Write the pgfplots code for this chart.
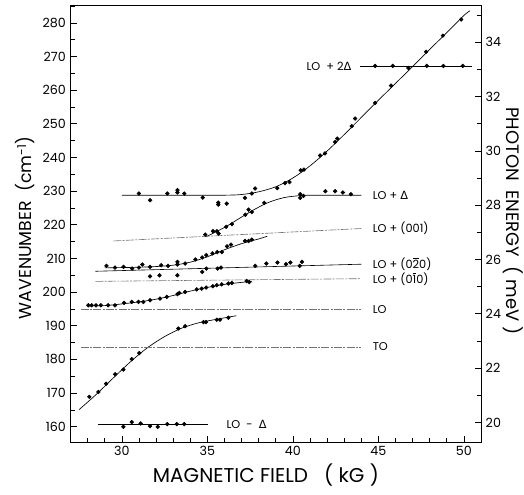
\documentclass[border=0pt]{standalone}
\usepackage{pgfplots}
\pgfplotsset{compat=1.18}
\usepackage{fontspec}
\setmainfont{Poppins}
\newfontfamily\dv{DejaVu Sans}
\newcommand{\D}{{\dv Δ}}

\pgfplotsset{
  pts/.style={only marks, mark=*, mark size=1.4pt, black},
  fit/.style={black, line width=0.5pt, smooth, no marks},
  faint/.style={black!55, line width=0.45pt, no marks, dash pattern=on 6pt off 1pt on 1.5pt off 1pt},
}

\begin{document}
\begin{tikzpicture}[font=\fontsize{8.5}{10}\selectfont]
\begin{axis}[
  scale only axis, width=307.9pt, height=327.75pt,
  xmin=27, xmax=51, ymin=155.5, ymax=285.3,
  xtick={30,35,...,50}, minor xtick={27,...,51},
  ytick={160,170,...,280}, minor ytick={160,165,...,285},
  xtick pos=bottom, ytick pos=left,
  tick align=inside, major tick length=4.5pt, minor tick length=3pt,
  tick style={black, line width=0.5pt},
  axis line style={line width=0.6pt},
  /pgf/number format/assume math mode=true,
  ticklabel style={font=\fontsize{9.5}{11}\selectfont},
  xlabel={MAGNETIC FIELD\ \ \ ( kG )},
  ylabel={WAVENUMBER\ \ (cm\textsuperscript{-1})},
  every axis x label/.style={at={(axis description cs:0.476,-0.075)}, anchor=center, font=\fontsize{15}{17}\selectfont},
  every axis y label/.style={at={(axis description cs:-0.11,0.49)}, anchor=center, rotate=90, font=\fontsize{13}{15}\selectfont},
  clip=false,
]
\coordinate (sw) at (rel axis cs:0,0);
\coordinate (ne) at (rel axis cs:1,1);

% fitted curves
\addplot[fit] coordinates {(30,228.8)(32,228.8)(34,228.8)(36,228.8)(37,229.0)(38,229.8)(39,231.3)(40,233.9)(41,237.5)(42,241.9)(43,246.8)(44,251.9)(45,257.0)(46,262.0)(47,267.0)(48,272.1)(49,277.1)(50,282.2)(50.36,283.6)};
\addplot[fit] coordinates {(34.9,216.4)(35.5,217.9)(36.2,219.8)(37,222.3)(37.8,224.7)(38.6,226.7)(39.5,228.1)(40.5,228.7)(41.5,228.8)(42.5,228.8)(44.0,228.8)};
\addplot[fit] coordinates {(29.0,207.2)(30,207.3)(31,207.4)(32,207.6)(33,208.0)(34,208.9)(35,210.5)(36,212.6)(37,214.4)(38,215.8)(38.5,216.6)};
\addplot[fit] coordinates {(28,195.9)(29,196.0)(30,196.5)(31,197.1)(32,197.9)(33,199.0)(34,200.3)(35,201.4)(36,202.3)(37,202.9)(37.6,203.2)};
\addplot[fit] coordinates {(27.5,165.1)(28.5,169.6)(29.5,174.5)(30.5,179.3)(31.5,183.5)(32.5,186.8)(33.5,189.3)(34.5,190.9)(35.5,191.9)(36.7,193.0)};

% level lines
\addplot[black, line width=0.45pt, no marks] coordinates {(43.93,267.2)(50.5,267.2)};
\addplot[black, line width=0.45pt, no marks] coordinates {(28.63,160.6)(35.06,160.6)};
\addplot[black, line width=0.45pt, no marks] coordinates {(28.45,206.2)(44.0,208.3)};
\addplot[faint] coordinates {(29.5,215.2)(44.0,218.9)};
\addplot[faint] coordinates {(28.45,203.2)(44.0,204.0)};
\addplot[faint] coordinates {(27.6,194.8)(44.0,194.8)};
\addplot[faint] coordinates {(27.6,183.7)(44.0,183.7)};

% measured points
\addplot[pts] table {
x y
31.0 229.3
31.65 227.3
32.66 229.3
33.25 230.3
33.25 229.6
33.65 229.3
34.73 228.1
35.64 226.6
35.64 226.0
36.13 226.3
37.2 228.0
37.6 229.3
37.79 230.8
39.09 230.9
39.54 232.4
39.8 232.7
40.46 236.2
40.65 236.4
41.59 240.6
41.88 241.2
42.47 244.6
42.6 245.6
43.44 249.3
43.64 251.55
44.81 256.2
45.74 261.35
46.75 266.6
47.79 271.4
48.77 276.2
49.84 281.0
};
\addplot[pts] table {
x y
34.88 217.1
35.33 218.1
35.56 218.1
35.66 217.4
36.1 219.4
36.44 220.2
37.22 223.0
37.41 224.5
37.6 223.8
38.33 226.5
40.43 229.1
40.43 228.0
40.62 228.6
41.9 230.0
42.47 230.0
42.92 229.6
43.39 229.1
};
\addplot[pts] table {
x y
44.81 267.2
45.84 267.2
47.83 267.2
48.8 267.2
49.93 267.2
};
\addplot[pts] table {
x y
29.1 207.8
29.6 207.3
30.1 207.5
30.6 207.0
31.0 207.3
31.2 208.2
31.65 207.5
32.3 208.0
32.7 207.8
33.25 209.0
33.25 208.2
33.7 208.5
34.3 209.7
34.7 210.3
34.94 211.0
35.3 211.5
35.58 211.9
35.85 211.9
36.15 213.6
36.38 214.1
37.2 215.2
37.41 215.2
37.6 215.6
};
\addplot[pts] table {
x y
31.65 204.7
32.2 205.0
33.25 205.0
34.7 206.0
34.94 207.0
35.6 207.0
35.8 207.3
37.8 207.8
38.45 208.5
39.1 208.8
39.6 208.3
39.85 208.8
40.4 207.8
40.53 209.0
};
\addplot[pts] table {
x y
28.04 196.1
28.24 196.1
28.49 196.1
28.77 196.1
29.2 196.1
29.6 196.1
30.13 196.8
30.58 197.1
30.97 197.1
31.26 197.1
31.65 197.6
32.23 198.1
32.63 198.6
33.25 199.4
33.36 199.75
33.7 200.05
34.38 200.8
34.67 201.05
34.93 201.35
35.32 201.75
35.55 202.05
35.84 202.3
36.23 202.55
36.43 202.7
37.3 203.3
37.45 203.0
};
\addplot[pts] table {
x y
28.1 168.9
28.63 170.35
29.08 172.8
29.61 175.6
30.09 177.0
30.58 180.1
31.02 181.9
33.3 189.2
33.7 189.9
34.77 191.1
34.92 191.1
35.55 191.8
35.74 191.8
36.23 192.4
};
\addplot[pts] table {
x y
30.09 160.0
30.58 161.4
31.1 161.0
31.65 160.2
32.1 160.0
32.66 160.8
33.21 160.8
33.65 160.8
};

% line labels
\node[anchor=east] at (axis cs:43.7,267.2) {LO\ \ +\ 2\D};
\node[anchor=west] at (axis cs:44.4,228.8) {LO + \D};
\node[anchor=west] at (axis cs:44.4,218.9) {LO + (001)};
\node[anchor=west] at (axis cs:44.4,208.3) {LO + (0$\overline{\hbox{2}}$0)};
\node[anchor=west] at (axis cs:44.4,204.0) {LO + (0$\overline{\hbox{1}}$0)};
\node[anchor=west] at (axis cs:44.4,194.8) {LO};
\node[anchor=west] at (axis cs:44.4,183.7) {TO};
\node[anchor=west] at (axis cs:35.85,160.6) {LO\ \ -\ \ \D};
\end{axis}

\begin{axis}[
  scale only axis, width=307.9pt, height=327.75pt,
  xmin=27, xmax=51, ymin=19.2797, ymax=35.373,
  axis x line=none, axis y line*=right,
  ytick={20,22,...,34}, minor ytick={20,...,35},
  tick align=inside, major tick length=4.5pt, minor tick length=3pt,
  tick style={black, line width=0.5pt},
  axis line style={line width=0.6pt},
  /pgf/number format/assume math mode=true,
  ticklabel style={font=\fontsize{9.5}{11}\selectfont},
  ylabel={PHOTON\ \ ENERGY\ \ ( meV )},
  every axis y label/.style={at={(axis description cs:1.078,0.506)}, anchor=center, rotate=-90, font=\fontsize{13.5}{15}\selectfont},
]
\end{axis}

\pgfresetboundingbox
\path[use as bounding box] ([shift={(-52.9pt,-39.75pt)}]sw) rectangle ([shift={(32.25pt,3.75pt)}]ne);
\end{tikzpicture}
\end{document}
